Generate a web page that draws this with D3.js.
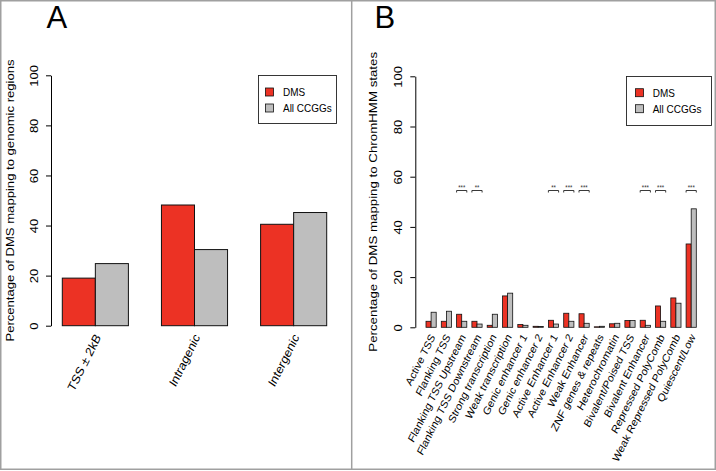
<!DOCTYPE html>
<html>
<head>
<meta charset="utf-8">
<script src="https://cdn.jsdelivr.net/npm/d3@7"></script>
<style>
  html, body { margin: 0; padding: 0; background: #fff; }
  svg { display: block; font-family: "Liberation Sans", Arial, Helvetica, sans-serif; }
</style>
</head>
<body>
<svg id="chart" width="716" height="471"></svg>
<script>
// ---------- DATA ----------
const seriesNames = ["DMS", "All CCGGs"];
const regionCategories = ["TSS \u00B1 2kB", "Intragenic", "Intergenic"];
const regionDMS = [19.0, 48.2, 40.5];
const regionAll = [24.8, 30.4, 45.2];

const stateCategories = [
  "Active TSS", "Flanking TSS", "Flanking TSS Upstream", "Flanking TSS Downstream",
  "Strong transcription", "Weak transcription", "Genic enhancer 1", "Genic enhancer 2",
  "Active Enhancer 1", "Active Enhancer 2", "Weak Enhancer", "ZNF genes & repeats",
  "Heterochromatin", "Bivalent/Poised TSS", "Bivalent Enhancer", "Repressed PolyComb",
  "Weak Repressed PolyComb", "Quiescent/Low"
];
const stateDMS = [2.4, 2.4, 5.2, 2.4, 0.8, 12.5, 1.1, 0.4, 2.8, 5.6, 5.4, 0.2, 1.4, 2.7, 2.8, 8.5, 11.7, 33.2];
const stateAll = [6.0, 6.4, 2.4, 1.3, 5.2, 13.6, 0.8, 0.3, 1.3, 2.4, 1.6, 0.4, 1.6, 2.7, 0.8, 2.4, 9.6, 47.2];
const stateSignif = ["", "", "***", "**", "", "", "", "", "**", "***", "***", "", "", "", "***", "***", "", "***"];

const yTicks = [0, 20, 40, 60, 80, 100];
const signifLevel = 54.5;

// ---------- STYLE ----------
const RED = "#EC3224", GRAY = "#BEBEBE";
const SQ = 0.86; // horizontal squish of the original figure

const svg = d3.select("#chart");

// frame
svg.append("rect").attr("x", 0.75).attr("y", 0.75).attr("width", 714.5).attr("height", 468.5)
  .attr("fill", "none").attr("stroke", "#a0a0a0").attr("stroke-width", 1.5);
svg.append("line").attr("x1", 351.7).attr("x2", 351.7).attr("y1", 0).attr("y2", 470)
  .attr("stroke", "#a0a0a0").attr("stroke-width", 1.5);

function panel(opts) {
  const g = svg.append("g");
  const y = d3.scaleLinear().domain([0, 100]).range([opts.y0, opts.y1]);
  const x = d3.scaleBand().domain(opts.cats).range([opts.xl, opts.xr]).paddingInner(1/3).paddingOuter(0);
  const xs = d3.scaleBand().domain(seriesNames).range([0, x.bandwidth()]);

  // axis
  const ax = g.append("g").attr("transform", `translate(${opts.axisX},0)`)
    .call(d3.axisLeft(y).tickValues(yTicks).tickSize(5).tickSizeOuter(0).tickFormat(d3.format("d")));
  ax.selectAll("path, line").attr("stroke", "#000").attr("stroke-width", 1);
  ax.selectAll("text")
    .attr("x", null).attr("dy", "0.35em")
    .attr("transform", `translate(-17,0) scale(${SQ},1) rotate(-90)`)
    .attr("text-anchor", "middle")
    .attr("font-size", 13).attr("fill", "#000")
    .attr("font-family", "Liberation Sans, Arial, sans-serif");

  // bars
  opts.cats.forEach((c, i) => {
    const vals = [opts.dms[i], opts.all[i]];
    seriesNames.forEach((s, j) => {
      g.append("rect")
        .attr("x", x(c) + xs(s))
        .attr("y", y(vals[j]))
        .attr("width", xs.bandwidth())
        .attr("height", y(0) - y(vals[j]))
        .attr("fill", j === 0 ? RED : GRAY)
        .attr("stroke", "#111").attr("stroke-width", opts.barStroke);
    });
    // category label
    const cx = x(c) + x.bandwidth() / 2;
    g.append("text")
      .attr("transform", `translate(${cx + opts.labDx},${opts.labY}) scale(${SQ},1) rotate(-60)`)
      .attr("text-anchor", "end").attr("dy", "0.35em")
      .attr("font-size", opts.labSize).attr("fill", "#000")
      .text(c);
  });

  // significance
  if (opts.signif) {
    opts.cats.forEach((c, i) => {
      if (!opts.signif[i]) return;
      const x0 = x(c), x1 = x(c) + x.bandwidth();
      const yl = y(signifLevel);
      g.append("path")
        .attr("d", `M${x0},${yl + 2}V${yl}H${x1}V${yl + 2}`)
        .attr("fill", "none").attr("stroke", "#222").attr("stroke-width", 0.9);
      g.append("text")
        .attr("transform", `translate(${(x0 + x1) / 2},${yl - 1}) scale(${SQ},1)`)
        .attr("text-anchor", "middle")
        .attr("font-size", 7).attr("fill", "#333")
        .text(opts.signif[i]);
    });
  }

  // axis title
  g.append("text")
    .attr("transform", `translate(${opts.titleX},${(opts.y0 + opts.y1) / 2}) scale(${SQ},1) rotate(-90)`)
    .attr("text-anchor", "middle").attr("dy", "0.35em")
    .attr("font-size", opts.titleSize).attr("fill", "#000")
    .text(opts.title);

  // legend
  const L = opts.legend;
  g.append("rect").attr("x", L.x).attr("y", L.y).attr("width", L.w).attr("height", L.h)
    .attr("fill", "#fff").attr("stroke", "#222").attr("stroke-width", 0.9);
  seriesNames.forEach((s, j) => {
    g.append("rect").attr("x", L.sqx).attr("y", L.sqy + j * 16).attr("width", 8).attr("height", 8)
      .attr("fill", j === 0 ? RED : GRAY).attr("stroke", "#111").attr("stroke-width", 0.8);
    g.append("text")
      .attr("transform", `translate(${L.tx},${L.ty + j * 16.3}) scale(${SQ},1)`)
      .attr("font-size", 11.6).attr("fill", "#000")
      .text(s);
  });

  // panel letter
  g.append("text").attr("x", opts.letterX).attr("y", 28.3)
    .attr("font-size", 31).attr("fill", "#000").text(opts.letter);
}

panel({
  cats: regionCategories, dms: regionDMS, all: regionAll,
  y0: 325.7, y1: 75.3, xl: 62.3, xr: 326.7, axisX: 51,
  barStroke: 1, labDx: 2.5, labY: 335, labSize: 13.3,
  titleX: 10, titleSize: 13.1,
  title: "Percentage of DMS mapping to genomic regions",
  legend: { x: 258.5, y: 75.5, w: 78, h: 48, sqx: 265.5, sqy: 88, tx: 283, ty: 96 },
  letter: "A", letterX: 46.5
});

panel({
  cats: stateCategories, dms: stateDMS, all: stateAll, signif: stateSignif,
  y0: 327.3, y1: 76.3, xl: 426, xr: 696.3, axisX: 415.3,
  barStroke: 0.8, labDx: 1.5, labY: 335, labSize: 11.6,
  titleX: 372.5, titleSize: 13.3,
  title: "Percentage of DMS mapping to ChromHMM states",
  legend: { x: 626.5, y: 76.5, w: 85, h: 49, sqx: 635.5, sqy: 88.7, tx: 652.7, ty: 96.7 },
  letter: "B", letterX: 374.5
});
</script>
</body>
</html>
